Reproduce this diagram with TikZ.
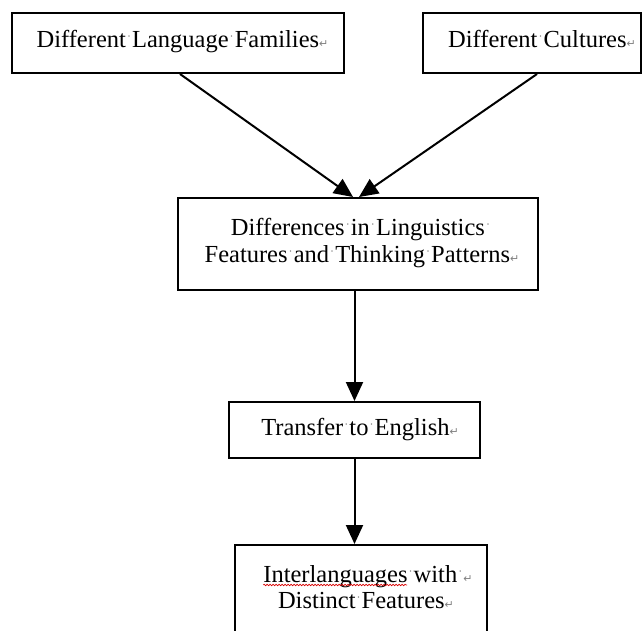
\documentclass[tikz,border=0pt]{standalone}
\usepackage{fontspec}
\setmainfont{Liberation Serif}
\newfontfamily\markfont{DejaVu Sans}
\usetikzlibrary{arrows.meta,decorations.pathmorphing}
\newcommand\wsp{\makebox[0.25em][c]{\raisebox{0.26em}{\textcolor{black!55}{\fontsize{12}{12}\selectfont\char"00B7}}}}
\newcommand\eol{\textcolor{black!50}{\markfont\fontsize{11}{11}\selectfont\char"21B5}}
\begin{document}
\begin{tikzpicture}[x=1pt,y=-1pt,
  box/.style={draw,line width=2pt,inner sep=0pt},
  txt/.style={inner sep=0pt,anchor=base,font=\fontsize{24.5}{27}\selectfont},
  arr/.style={line width=2pt,-{Triangle[width=17pt,length=19pt]}}]
\useasboundingbox (0,0) rectangle (643,630);
\clip (0,0) rectangle (643,630);
\fill[white] (0,0) rectangle (643,630);
% boxes
\node[box,minimum width=332pt,minimum height=60pt] (b1) at (178,43) {};
\node[box,minimum width=218pt,minimum height=60pt] (b2) at (532,43) {};
\node[box,minimum width=360pt,minimum height=92pt] (b3) at (358,244) {};
\node[box,minimum width=251pt,minimum height=56pt] (b4) at (354.5,430) {};
\node[box,minimum width=252pt,minimum height=155pt] (b5) at (361,622.5) {};
% texts
\node[txt] (t1) at (182.5,47) {Different\wsp Language\wsp Families\eol};
\node[txt] (t2) at (542,47) {Different\wsp Cultures\eol};
\node[txt] (t3a) at (361,235) {Differences\wsp in\wsp Linguistics\wsp};
\node[txt] (t3b) at (362,262) {Features\wsp and\wsp Thinking\wsp Patterns\eol};
\node[txt] (t4) at (360,435) {Transfer\wsp to\wsp English\eol};
\node[txt] (t5a) at (368,582) {Interlanguages\wsp with\wsp\eol};
\node[txt] (t5b) at (366,608) {Distinct\wsp Features\eol};
% spell-check underline
\draw[red!85!black,line width=0.6pt,decorate,decoration={snake,amplitude=0.8pt,segment length=3pt}]
  ([yshift=-3pt]t5a.base west) -- ++(144,0);
% connectors
\draw[arr] ([xshift=2pt]b1.south) -- ([xshift=-5pt]b3.north);
\draw[arr] ([xshift=5pt]b2.south) -- ([xshift=1pt]b3.north);
\draw[arr] (b4.north |- b3.south) -- (b4.north);
\draw[arr] (b4.south) -- (b4.south |- b5.north);
\end{tikzpicture}
\end{document}
